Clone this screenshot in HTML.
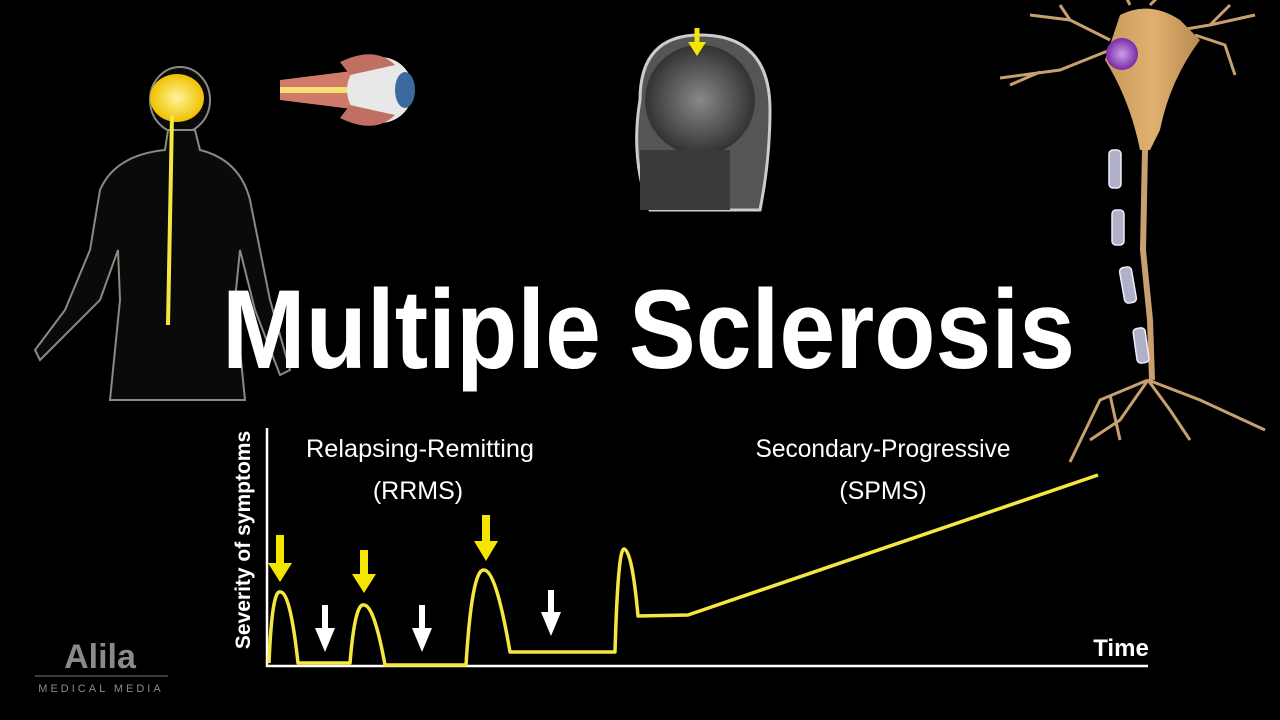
<!DOCTYPE html>
<html><head><meta charset="utf-8"><style>
html,body{margin:0;padding:0;background:#000;}
svg{display:block;font-family:"Liberation Sans",sans-serif;}
</style></head><body>
<svg width="1280" height="720" viewBox="0 0 1280 720" xmlns="http://www.w3.org/2000/svg">
<rect width="1280" height="720" fill="#000"/>
<defs>
<radialGradient id="brain" cx="50%" cy="50%" r="50%"><stop offset="0" stop-color="#fff59a"/><stop offset="1" stop-color="#f0c000"/></radialGradient>
<radialGradient id="nuc" cx="50%" cy="50%" r="50%"><stop offset="0" stop-color="#c9a0e8"/><stop offset="1" stop-color="#7a2aa8"/></radialGradient>
<linearGradient id="soma" x1="0" x2="1"><stop offset="0" stop-color="#c79a5a"/><stop offset="0.5" stop-color="#e0b070"/><stop offset="1" stop-color="#b88a50"/></linearGradient>
<radialGradient id="mri" cx="50%" cy="50%" r="50%"><stop offset="0" stop-color="#888"/><stop offset="1" stop-color="#333"/></radialGradient>
</defs>

<!-- Human figure -->
<g fill="#0a0a0a" stroke="#8a8a80" stroke-width="2">
<ellipse cx="180" cy="100" rx="30" ry="33"/>
<path d="M168 130 L195 130 L200 150 Q240 160 250 200 L270 300 L290 370 L280 375 L255 310 L240 250 L235 300 L245 400 L110 400 L120 300 L118 250 L100 300 L60 340 L40 360 L35 350 L65 310 L90 250 L100 190 Q115 155 165 150 Z"/>
</g>
<ellipse cx="177" cy="98" rx="27" ry="24" fill="url(#brain)"/>
<line x1="172" y1="115" x2="168" y2="325" stroke="#f5e642" stroke-width="4"/>

<!-- Eye -->
<g>
<path d="M280 80 L360 70 L360 110 L280 100 Z" fill="#d07a6a"/>
<line x1="280" y1="90" x2="360" y2="90" stroke="#f5e070" stroke-width="6"/>
<ellipse cx="380" cy="90" rx="33" ry="33" fill="#e8e8e8"/>
<ellipse cx="405" cy="90" rx="10" ry="18" fill="#3a6aa0"/>
<path d="M340 62 Q375 45 395 65 L350 75 Z" fill="#c07060"/>
<path d="M340 118 Q375 135 395 115 L350 105 Z" fill="#c07060"/>
</g>

<!-- MRI -->
<g>
<path d="M640 100 Q640 35 700 35 Q770 35 770 110 Q770 160 760 210 L650 210 Q630 160 640 100 Z" fill="#555" stroke="#ccc" stroke-width="3"/>
<ellipse cx="700" cy="100" rx="55" ry="55" fill="url(#mri)"/>
<rect x="640" y="150" width="90" height="60" fill="#3a3a3a"/>
<line x1="697" y1="28" x2="697" y2="50" stroke="#f5e600" stroke-width="5"/>
<polygon points="688,42 706,42 697,56" fill="#f5e600"/>
</g>

<!-- Neuron -->
<g stroke="#c8a070" stroke-width="3" fill="none">
<path d="M1110 40 L1070 20 L1030 15 M1070 20 L1060 5"/>
<path d="M1110 50 L1060 70 L1000 78 M1040 72 L1010 85"/>
<path d="M1180 30 L1210 25 L1255 15 M1210 25 L1230 5 M1195 35 L1225 45 L1235 75"/>
<path d="M1130 5 L1125 -5 M1150 5 L1160 -5"/>
<path d="M1148 380 L1100 400 L1070 462 M1110 395 L1120 440 M1148 380 L1170 410 L1190 440 M1148 380 L1200 400 L1265 430 M1148 380 L1120 420 L1090 440"/>
</g>
<path d="M1120 15 Q1150 0 1180 20 L1200 40 Q1170 80 1160 130 L1150 150 L1140 150 Q1130 100 1105 60 Z" fill="url(#soma)"/>
<circle cx="1122" cy="54" r="16" fill="url(#nuc)"/>
<path d="M1145 150 L1143 250 L1150 320 L1152 380" stroke="#c8a070" stroke-width="6" fill="none"/>
<g fill="#b0b0c8" stroke="#eef" stroke-width="1.5">
<rect x="1109" y="150" width="12" height="38" rx="4"/>
<rect x="1112" y="210" width="12" height="35" rx="4"/>
<rect x="1122" y="267" width="12" height="36" rx="4" transform="rotate(-10 1128 285)"/>
<rect x="1135" y="328" width="12" height="35" rx="4" transform="rotate(-8 1141 345)"/>
</g>

<!-- Title -->
<text x="222" y="368" font-size="112" font-weight="bold" fill="#fff" textLength="853" lengthAdjust="spacingAndGlyphs">Multiple Sclerosis</text>

<!-- Graph axes -->
<line x1="267" y1="428" x2="267" y2="667" stroke="#fff" stroke-width="2.5"/>
<line x1="266" y1="666" x2="1148" y2="666" stroke="#fff" stroke-width="2.5"/>

<!-- Curve -->
<path d="M269 663 Q272 590 280 592 Q290 590 298 663 L350 663 Q355 602 364 605 Q374 605 385 665 L466 665 Q472 568 484 570 Q496 570 510 652 L615 652 Q618 548 624 549 Q632 550 638 616 L688 615 L1098 475" stroke="#f5e642" stroke-width="3.5" fill="none" stroke-linejoin="round"/>

<!-- Yellow arrows -->
<g fill="#f5e600">
<rect x="276" y="535" width="8" height="30"/><polygon points="268,563 292,563 280,582"/>
<rect x="360" y="550" width="8" height="26"/><polygon points="352,574 376,574 364,593"/>
<rect x="482" y="515" width="8" height="28"/><polygon points="474,541 498,541 486,561"/>
</g>
<!-- White arrows -->
<g fill="#fff">
<rect x="322" y="605" width="6" height="26"/><polygon points="315,628 335,628 325,652"/>
<rect x="419" y="605" width="6" height="26"/><polygon points="412,628 432,628 422,652"/>
<rect x="548" y="590" width="6" height="26"/><polygon points="541,612 561,612 551,636"/>
</g>

<!-- Labels -->
<g fill="#fff" font-size="25" text-anchor="middle">
<text x="420" y="457" textLength="228" lengthAdjust="spacingAndGlyphs">Relapsing-Remitting</text>
<text x="418" y="499">(RRMS)</text>
<text x="883" y="457" textLength="255" lengthAdjust="spacingAndGlyphs">Secondary-Progressive</text>
<text x="883" y="499">(SPMS)</text>
</g>
<text x="1121" y="656" font-size="24" font-weight="bold" fill="#fff" text-anchor="middle">Time</text>
<text transform="translate(250 540) rotate(-90)" font-size="21" font-weight="bold" fill="#fff" text-anchor="middle">Severity of symptoms</text>

<!-- Logo -->
<text x="100" y="668" font-size="34" font-weight="bold" fill="#8a8a8a" text-anchor="middle">Alila</text>
<line x1="35" y1="676" x2="168" y2="676" stroke="#777" stroke-width="1"/>
<text x="101" y="692" font-size="11" fill="#8a8a8a" text-anchor="middle" letter-spacing="3">MEDICAL MEDIA</text>
</svg>
</body></html>
